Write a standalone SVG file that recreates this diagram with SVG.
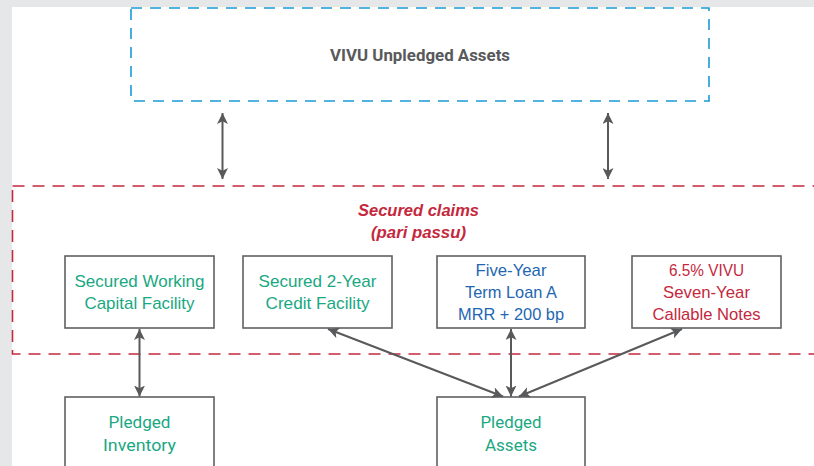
<svg xmlns="http://www.w3.org/2000/svg" width="814" height="466" viewBox="0 0 814 466">
  <style>
    .bg { fill: #e6e7e8; }
    .sheet { fill: #ffffff; }
    .box { fill: #ffffff; stroke: #5f6062; stroke-width: 1.6; }
    .dash-blue { fill: none; stroke: #1b9ad6; stroke-width: 1.6; stroke-dasharray: 11 8; }
    .dash-red { fill: none; stroke: #c5283d; stroke-width: 1.6; stroke-dasharray: 12 8; }
    .conn { fill: none; stroke: #58595b; stroke-width: 2; marker-start: url(#ah); marker-end: url(#ah); }
    .t { font-family: "Liberation Sans", Arial, sans-serif; font-size: 17px; text-anchor: middle; }
    .title { font-family: "Liberation Sans", Arial, sans-serif; font-size: 16px; text-anchor: middle; font-weight: bold; font-style: italic; }
    .cond { font-family: "Roboto", "Liberation Sans", sans-serif; font-size: 17px; text-anchor: middle; }
    .green { fill: #19a882; }
    .blue { fill: #1f67b1; }
    .red { fill: #c5283d; }
    .gray { fill: #58595b; }
  </style>
  <defs>
    <marker id="ah" viewBox="0 0 12 12" refX="12" refY="6" markerWidth="11" markerHeight="11" markerUnits="userSpaceOnUse" orient="auto-start-reverse">
      <path d="M0,0 L12,6 L0,12 L3,6 Z" fill="#58595b"/>
    </marker>
  </defs>

  <rect class="bg" x="0" y="0" width="814" height="466"/>
  <rect class="sheet" x="12" y="7" width="802" height="459"/>

  <g id="unpledged">
    <rect class="dash-blue" x="131" y="8" width="578" height="93"/>
    <text class="cond gray" x="420" y="61" font-weight="bold" textLength="180" lengthAdjust="spacingAndGlyphs">VIVU Unpledged Assets</text>
  </g>

  <g id="secured-claims">
    <rect class="dash-red" x="12.5" y="186" width="820" height="168"/>
    <text class="title red" x="418.5" y="216" textLength="121" lengthAdjust="spacingAndGlyphs">Secured claims</text>
    <text class="title red" x="418.5" y="238" textLength="95" lengthAdjust="spacingAndGlyphs">(pari passu)</text>
  </g>

  <g id="working-capital">
    <rect class="box" x="65" y="256" width="149" height="72"/>
    <text class="t green" x="139.5" y="287" textLength="130" lengthAdjust="spacingAndGlyphs">Secured Working</text>
    <text class="t green" x="139.5" y="309" textLength="110" lengthAdjust="spacingAndGlyphs">Capital Facility</text>
  </g>

  <g id="credit-facility">
    <rect class="box" x="243" y="256" width="149" height="72"/>
    <text class="t green" x="317.5" y="287" textLength="118" lengthAdjust="spacingAndGlyphs">Secured 2-Year</text>
    <text class="t green" x="317.5" y="309" textLength="104" lengthAdjust="spacingAndGlyphs">Credit Facility</text>
  </g>

  <g id="term-loan">
    <rect class="box" x="437" y="256" width="148" height="72"/>
    <text class="t blue" x="511" y="276" textLength="71" lengthAdjust="spacingAndGlyphs">Five-Year</text>
    <text class="t blue" x="511" y="298" textLength="92" lengthAdjust="spacingAndGlyphs">Term Loan A</text>
    <text class="t blue" x="511" y="320" textLength="106" lengthAdjust="spacingAndGlyphs">MRR + 200 bp</text>
  </g>

  <g id="notes">
    <rect class="box" x="632" y="256" width="149" height="72"/>
    <text class="t red" x="706.5" y="276" textLength="75" lengthAdjust="spacingAndGlyphs">6.5% VIVU</text>
    <text class="t red" x="706.5" y="298" textLength="87" lengthAdjust="spacingAndGlyphs">Seven-Year</text>
    <text class="t red" x="706.5" y="320" textLength="108" lengthAdjust="spacingAndGlyphs">Callable Notes</text>
  </g>

  <g id="pledged-inventory">
    <rect class="box" x="65" y="397" width="149" height="80"/>
    <text class="cond green" x="139.5" y="428" textLength="62" lengthAdjust="spacingAndGlyphs">Pledged</text>
    <text class="cond green" x="139.5" y="451" textLength="73" lengthAdjust="spacingAndGlyphs">Inventory</text>
  </g>

  <g id="pledged-assets">
    <rect class="box" x="437" y="397" width="148" height="80"/>
    <text class="cond green" x="511" y="428" textLength="61" lengthAdjust="spacingAndGlyphs">Pledged</text>
    <text class="cond green" x="511" y="451" textLength="52" lengthAdjust="spacingAndGlyphs">Assets</text>
  </g>

  <g id="connectors">
    <line class="conn" x1="222.5" y1="113" x2="222.5" y2="179"/>
    <line class="conn" x1="608" y1="113" x2="608" y2="179"/>
    <line class="conn" x1="139.5" y1="329" x2="139.5" y2="396.5"/>
    <line class="conn" x1="328" y1="329" x2="503" y2="396.5"/>
    <line class="conn" x1="511" y1="329" x2="511" y2="396.5"/>
    <line class="conn" x1="682" y1="329" x2="519" y2="396.5"/>
  </g>
</svg>
